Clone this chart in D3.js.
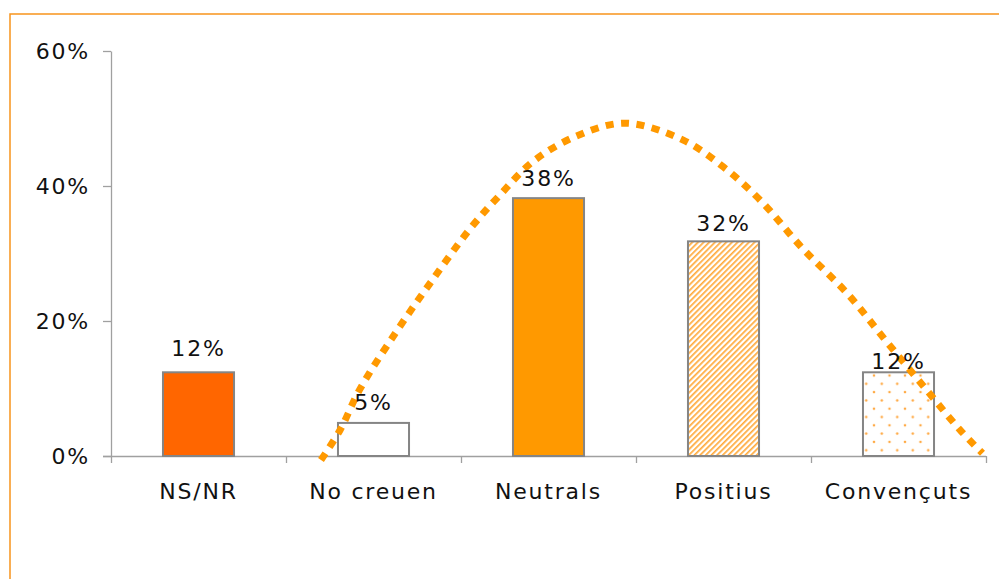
<!DOCTYPE html>
<html>
<head>
<meta charset="utf-8">
<style>
body { margin: 0; background: #fff; }
svg { font: 22px "DejaVu Sans", Verdana, sans-serif; letter-spacing: 1.8px; }
.axis path, .axis line { stroke: #a0a0a0; stroke-width: 1.3; }
.axis text { fill: #111; font: 22px "DejaVu Sans", Verdana, sans-serif; letter-spacing: 1.8px; }
.bar { stroke: #858585; stroke-width: 2; }
.val, .cat { fill: #111; }
.trend { fill: none; stroke: #ff9900; stroke-width: 7; stroke-dasharray: 8 7.5; }
</style>
</head>
<body>
<script src="https://cdn.jsdelivr.net/npm/d3@7"></script>
<script>

var categories = ["NS/NR", "No creuen", "Neutrals", "Positius", "Convençuts"];
var shares = [12.4, 4.9, 38.2, 31.8, 12.4];
var fills = ["#ff6600", "#ffffff", "#ff9900", "url(#hatch)", "url(#dots)"];
var labelLift = [16, 13, 12, 10, 3];
var yTicks = [0, 20, 40, 60];

// dotted bell curve, x in category units (0..5), y in %
var curveX = [1.20, 1.31, 1.42, 1.63, 1.84, 2.05, 2.22, 2.41, 2.66, 2.94, 3.27, 3.50, 3.71, 3.95, 4.21, 4.43, 4.66, 4.85, 4.98];
var curveY = [-0.6, 3.9, 9.8, 18.4, 26.2, 33.6, 38.6, 43.6, 47.4, 49.3, 46.8, 42.8, 37.9, 30.8, 24.0, 17.0, 9.8, 3.9, 0.4];

var width = 999, height = 579;
var plotLeft = 111, plotRight = 986, plotTop = 51, plotBottom = 456;

var svg = d3.select("body").append("svg")
    .attr("width", width)
    .attr("height", height);

var defs = svg.append("defs");

var hatch = defs.append("pattern")
    .attr("id", "hatch")
    .attr("patternUnits", "userSpaceOnUse")
    .attr("width", 4)
    .attr("height", 4)
    .attr("patternTransform", "rotate(45)");
hatch.append("rect").attr("width", 4).attr("height", 4).attr("fill", "#fff");
hatch.append("rect").attr("width", 1.7).attr("height", 4).attr("fill", "#ffaa3c");

var dots = defs.append("pattern")
    .attr("id", "dots")
    .attr("patternUnits", "userSpaceOnUse")
    .attr("width", 15.5)
    .attr("height", 16.6)
    .attr("x", 874)
    .attr("y", 375.5);
dots.append("rect").attr("width", 15.5).attr("height", 16.6).attr("fill", "#fff");
[[0, 0], [15.5, 0], [0, 16.6], [15.5, 16.6], [7.75, 8.3]].forEach(function(p) {
  dots.append("circle").attr("cx", p[0]).attr("cy", p[1]).attr("r", 1.3).attr("fill", "#ffaa44");
});

// orange frame, open to the right and bottom
svg.append("rect")
    .attr("x", 10)
    .attr("y", 14)
    .attr("width", 1200)
    .attr("height", 800)
    .attr("fill", "none")
    .attr("stroke", "#f7941d")
    .attr("stroke-width", 1.5);

var x = d3.scaleBand()
    .domain(categories)
    .range([plotLeft, plotRight])
    .paddingInner(0.594)
    .paddingOuter(0.297);

var xu = d3.scaleLinear()
    .domain([0, 5])
    .range([plotLeft, plotRight]);

var y = d3.scaleLinear()
    .domain([0, 60])
    .range([plotBottom, plotTop]);

svg.append("g")
    .attr("class", "axis")
    .attr("transform", "translate(" + plotLeft + ",0)")
    .call(d3.axisLeft(y).tickValues(yTicks).tickSize(8).tickSizeOuter(0).tickPadding(13)
      .tickFormat(function(d) { return d + "%"; }));

var xAxis = svg.append("g")
    .attr("class", "axis")
    .attr("transform", "translate(0," + plotBottom + ")")
    .call(d3.axisBottom(xu).tickValues(d3.range(0, 6)).tickSize(7).tickSizeOuter(0).tickFormat(""));
xAxis.select(".domain").attr("d", "M" + (plotLeft - 8) + ",0.5H" + plotRight);

svg.selectAll(".bar")
    .data(shares)
    .enter().append("rect")
    .attr("class", "bar")
    .attr("x", function(d, i) { return x(categories[i]); })
    .attr("y", function(d) { return y(d); })
    .attr("width", x.bandwidth())
    .attr("height", function(d) { return y(0) - y(d); })
    .attr("fill", function(d, i) { return fills[i]; });

svg.selectAll(".cat")
    .data(categories)
    .enter().append("text")
    .attr("class", "cat")
    .attr("x", function(d) { return x(d) + x.bandwidth() / 2; })
    .attr("y", plotBottom + 43)
    .attr("text-anchor", "middle")
    .text(function(d) { return d; });

var line = d3.line()
    .x(function(d) { return xu(d[0]); })
    .y(function(d) { return y(d[1]); })
    .curve(d3.curveCatmullRom);

svg.append("path")
    .datum(d3.zip(curveX, curveY))
    .attr("class", "trend")
    .attr("d", line);

svg.selectAll(".val")
    .data(shares)
    .enter().append("text")
    .attr("class", "val")
    .attr("x", function(d, i) { return x(categories[i]) + x.bandwidth() / 2; })
    .attr("y", function(d, i) { return y(d) - labelLift[i]; })
    .attr("text-anchor", "middle")
    .text(function(d) { return Math.round(d) + "%"; });

</script>
</body>
</html>
